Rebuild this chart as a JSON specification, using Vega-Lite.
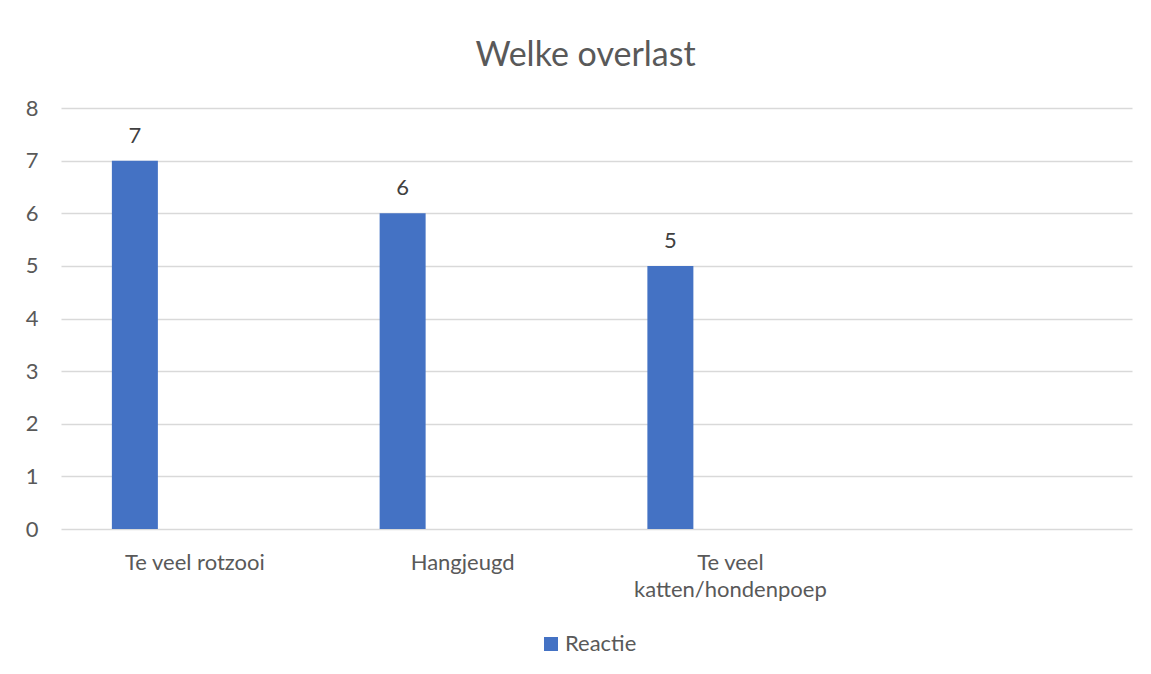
{
  "$schema": "https://vega.github.io/schema/vega-lite/v6.json",
  "width": 1071,
  "height": 421,
  "autosize": "none",
  "padding": {"left": 61, "top": 108, "right": 19, "bottom": 145},
  "background": "white",
  "config": {"view": {"stroke": null}, "font": "Lato"},
  "title": {"text": "Welke overlast", "fontSize": 34, "font": "Lato", "fontWeight": "normal", "color": "#595959", "anchor": "middle", "offset": 24, "dx": -11},
  "data": {"values": [
    {"category": "Te veel rotzooi", "series": "Reactie", "value": 7},
    {"category": "Hangjeugd", "series": "Reactie", "value": 6},
    {"category": "Te veel katten/hondenpoep", "series": "Reactie", "value": 5}
  ]},
  "encoding": {
    "x": {"field": "category", "type": "nominal", "sort": null,
      "scale": {"domain": ["Te veel rotzooi", "Hangjeugd", "Te veel katten/hondenpoep", " "], "paddingInner": 0, "paddingOuter": 0},
      "axis": {"title": null, "domain": false, "ticks": false, "labelAngle": 0, "labelFontSize": 22, "labelColor": "#595959", "labelPadding": 23, "labelLineHeight": 27, "labelLimit": 0,
        "labelExpr": "datum.label == 'Te veel katten/hondenpoep' ? ['Te veel', 'katten/hondenpoep'] : datum.label"}},
    "y": {"field": "value", "type": "quantitative",
      "scale": {"domain": [0, 8], "nice": false},
      "axis": {"title": null, "domain": false, "ticks": false, "values": [0,1,2,3,4,5,6,7,8], "grid": true, "gridColor": "#d9d9d9", "gridWidth": 1.5, "labelFontSize": 22, "labelColor": "#595959", "labelPadding": 23}}
  },
  "layer": [
    {"mark": {"type": "bar", "width": 46, "xOffset": -60},
     "encoding": {"color": {"field": "series", "type": "nominal", "scale": {"range": ["#4472C4"]},
       "legend": {"title": null, "orient": "none", "legendX": 479, "legendY": 525, "symbolType": "square", "symbolSize": 196, "symbolStrokeWidth": 0, "labelFontSize": 22, "labelColor": "#595959", "labelOffset": 3}}}},
    {"mark": {"type": "text", "xOffset": -60, "dy": -18, "baseline": "alphabetic", "fontSize": 22, "color": "#404040"},
     "encoding": {"text": {"field": "value", "type": "quantitative"}}}
  ]
}
